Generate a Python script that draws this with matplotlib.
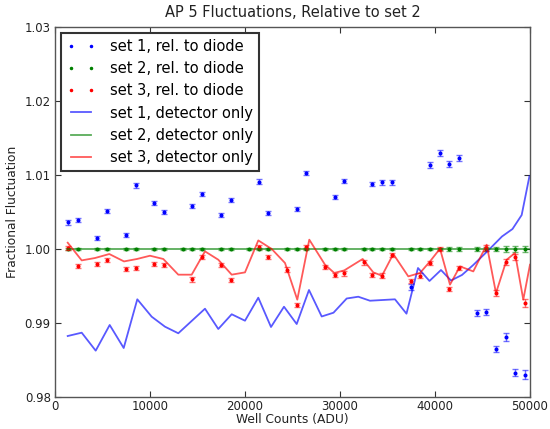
import matplotlib
matplotlib.use("Agg")
import matplotlib.pyplot as plt

# ---- data ----
title = "AP 5 Fluctuations, Relative to set 2"

x_set1 = [1400, 2450, 4420, 5470, 7470, 8530, 10420, 11470, 14420, 15470, 17470, 18530,
          21470, 22420, 25470, 26420, 29470, 30420, 33370, 34420, 35470, 37470, 39470,
          40530, 41470, 42530, 44420, 45370, 46420, 47470, 48420, 49470]
y_set1 = [1.0036, 1.0039, 1.0015, 1.0051, 1.0019, 1.0086, 1.0062, 1.0050, 1.0058, 1.0074,
          1.0046, 1.0066, 1.0091, 1.0049, 1.0054, 1.0103, 1.0070, 1.0092, 1.0088, 1.0090,
          1.0090, 0.9949, 1.0114, 1.0130, 1.0115, 1.0123, 0.9914, 0.9915, 0.9865, 0.9881,
          0.9833, 0.9830]
e_set1 = [0.0003, 0.0003, 0.0003, 0.0003, 0.0003, 0.0003, 0.0003, 0.0003, 0.0003, 0.0003,
          0.0003, 0.0003, 0.0003, 0.0003, 0.0003, 0.0003, 0.0003, 0.0003, 0.0003, 0.0003,
          0.0003, 0.0004, 0.0004, 0.0004, 0.0004, 0.0004, 0.0004, 0.0004, 0.0004, 0.0005,
          0.0005, 0.0006]

x_set2 = [1400, 2450, 4420, 5470, 7470, 8530, 10420, 11470, 13470, 14420, 15470, 17470,
          18530, 20420, 21470, 22420, 24420, 25470, 26420, 28420, 29470, 30420, 32530,
          33370, 34420, 35470, 37470, 38420, 39470, 40530, 41470, 42530, 44420, 45370,
          46420, 47470, 48420, 49470]
y_set2 = [1.0] * 38
e_set2 = [0.0002] * 30 + [0.0003, 0.0003, 0.0003, 0.0003, 0.0003, 0.0004, 0.0004, 0.0004]

x_set3 = [1400, 2450, 4420, 5470, 7470, 8530, 10420, 11470, 14420, 15470, 17470, 18530,
          21470, 22420, 24420, 25470, 26420, 28420, 29470, 30420, 32530, 33370, 34420,
          35470, 37470, 38420, 39470, 40530, 41470, 42530, 45370, 46420, 47470, 48420, 49470]
y_set3 = [1.0001, 0.9977, 0.9980, 0.9985, 0.9973, 0.9974, 0.9980, 0.9978, 0.9959, 0.9989,
          0.9978, 0.9958, 1.0003, 0.9989, 0.9972, 0.9924, 1.0003, 0.9976, 0.9965, 0.9967,
          0.9982, 0.9965, 0.9964, 0.9992, 0.9957, 0.9964, 0.9981, 1.0000, 0.9946, 0.9974,
          1.0001, 0.9941, 0.9982, 0.9989, 0.9927]
e_set3 = [0.0003] * 28 + [0.0003, 0.0003, 0.0004, 0.0004, 0.0004, 0.0004, 0.0005]

lx_set1 = [1337, 2811, 4284, 5758, 7232, 8663, 10179, 11579, 12979, 15789, 17189, 18600,
           20000, 21400, 22737, 24105, 25442, 26737, 28074, 29316, 30705, 31926, 33158,
           35789, 37000, 38211, 39421, 40632, 41684, 42842, 44032, 45474, 47053, 48158,
           49126, 49947]
ly_set1 = [0.98824, 0.98869, 0.98626, 0.98973, 0.98662, 0.99320, 0.99085, 0.98950, 0.98861,
           0.99193, 0.98919, 0.99118, 0.99031, 0.99342, 0.98946, 0.99220, 0.98986, 0.99446,
           0.99088, 0.99139, 0.99331, 0.99355, 0.99301, 0.99320, 0.99126, 0.99743, 0.99568,
           0.99716, 0.99574, 0.99649, 0.99784, 0.99964, 1.00169, 1.00270, 1.00459, 1.00986]

lx_set2 = [1337, 49947]
ly_set2 = [1.0, 1.0]

lx_set3 = [1337, 2811, 4210, 5716, 7263, 8632, 10000, 11400, 12979, 14389, 15789, 17189,
           18600, 20000, 21400, 22811, 24211, 25505, 26768, 28421, 29400, 30453, 32389,
           33505, 34421, 35611, 37189, 38421, 39474, 40526, 41579, 42632, 44032, 45442,
           46421, 47547, 48421, 49295, 50000]
ly_set3 = [1.00085, 0.99846, 0.99878, 0.99932, 0.99832, 0.99865, 0.99909, 0.99865, 0.99653,
           0.99653, 0.99968, 0.99855, 0.99653, 0.99684, 1.00116, 1.00000, 0.99811, 0.99315,
           1.00126, 0.99788, 0.99676, 0.99711, 0.99865, 0.99684, 0.99639, 0.99932, 0.99630,
           0.99676, 0.99832, 1.00004, 0.99518, 0.99765, 0.99697, 1.00058, 0.99405, 0.99855,
           0.99946, 0.99315, 0.99788]

xticks = [0, 10000, 20000, 30000, 40000, 50000]
yticks = [0.98, 0.99, 1.00, 1.01, 1.02, 1.03]

BLUE = (0, 0, 1)
GREEN = (0, 0.5, 0)
RED = (1, 0, 0)

plt.rcParams['font.family'] = ['DejaVu Sans']
fig = plt.figure(figsize=(5.5, 4.29), dpi=100)
ax = fig.add_axes([0.1, 0.0746, 0.8636, 0.8625])

dots = [(x_set1, y_set1, e_set1, BLUE, "set 1, rel. to diode"),
        (x_set2, y_set2, e_set2, GREEN, "set 2, rel. to diode"),
        (x_set3, y_set3, e_set3, RED, "set 3, rel. to diode")]
for x, y, e, c, lab in dots:
    ax.errorbar(x, y, yerr=e, fmt='none', ecolor=c, alpha=0.55, elinewidth=1.0,
                capsize=2.5, capthick=1.0)
    ax.plot(x, y, '.', color=c, markersize=3.8, label=lab)

lines = [(lx_set1, ly_set1, BLUE, "set 1, detector only"),
         (lx_set2, ly_set2, GREEN, "set 2, detector only"),
         (lx_set3, ly_set3, RED, "set 3, detector only")]
for x, y, c, lab in lines:
    ax.plot(x, y, '-', color=c, alpha=0.65, linewidth=1.3, label=lab)

ax.set_xlim(0, 50000)
ax.set_ylim(0.98, 1.03)
ax.set_xticks(xticks)
ax.set_yticks(yticks)
ax.set_xticklabels([str(t) for t in xticks])
ax.set_yticklabels(["%.2f" % t for t in yticks])
ax.tick_params(direction='in', top=True, right=True, length=4, labelsize=8.5,
               pad=3, colors='#333333', labelcolor='#222222')
ax.tick_params(axis='x', pad=2)
for s in ax.spines.values():
    s.set_color('#555555')
    s.set_linewidth(1.0)

ax.set_title(title, fontsize=10.5, color='#222222', pad=7)
ax.set_xlabel("Well Counts (ADU)", fontsize=8.8, color='#222222', labelpad=0)
ax.set_ylabel("Fractional Fluctuation", fontsize=8.8, color='#222222', labelpad=4)

leg = ax.legend(loc='upper left', numpoints=2, fontsize=10.5, fancybox=False,
                framealpha=1, edgecolor='#333333', borderaxespad=0.4,
                handlelength=2.0, labelspacing=0.5, borderpad=0.4,
                handletextpad=1.0, markerscale=0.8)
leg.get_frame().set_linewidth(1.5)

fig.savefig("out.png", dpi=100)
